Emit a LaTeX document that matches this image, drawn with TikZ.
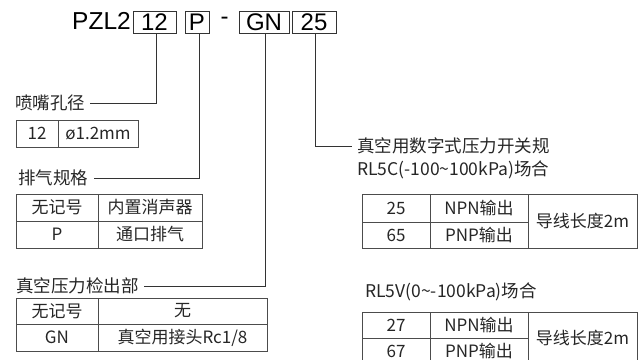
\documentclass[tikz,border=0pt]{standalone}
\usepackage{fontspec}
\setmainfont{Noto Sans CJK SC}
\newfontfamily\hdfont{Liberation Sans}
\usetikzlibrary{calc}

\tikzset{
	codebox/.style={draw=black!80, line width=0.8pt, minimum height=22pt, inner sep=0pt, font=\hdfont\fontsize{24}{24}\selectfont},
	lbl/.style={anchor=west, inner sep=0pt, font=\fontsize{17.5}{20}\selectfont, text=black!85},
	cell/.style={inner sep=0pt, font=\fontsize{17}{20}\selectfont, text=black!85},
	lead/.style={draw=black!80, line width=0.8pt},
	grid/.style={draw=black!70, line width=0.9pt}
}

\begin{document}
\begin{tikzpicture}[x=1pt, y=-1pt]
			%%%%% START %%%%%
			\useasboundingbox (0,0) rectangle (639,359);
			\clip (0,0) rectangle (639,359);
			
			% model code
			\node[anchor=east, inner sep=0pt, font=\hdfont\fontsize{24.5}{24}\selectfont] (pzl) at (131,21) {PZL2};
			\node[codebox, minimum width=43pt] (b12) at (154.5,22) {12};
			\node[codebox, minimum width=24pt] (bp) at (197,22) {P};
			\node[inner sep=0pt, font=\hdfont\fontsize{24}{24}\selectfont] (dash) at (224.5,21) {-};
			\node[codebox, minimum width=50pt] (bgn) at (264,22) {GN};
			\node[codebox, minimum width=44pt] (b25) at (314,22) {25};
			
			% labels
			\node[lbl] (nozzle) at (15,103) {喷嘴孔径};
			\node[lbl] (exhaust) at (18,178) {排气规格};
			\node[lbl] (sensor) at (16,286) {真空压力检出部};
			\node[lbl] (switch) at (357,146) {真空用数字式压力开关规};
			\node[lbl] (rangec) at (357,170) {RL5C(-100\textasciitilde100kPa)场合};
			\node[lbl] (rangev) at (365,292) {RL5V(0\textasciitilde-100kPa)场合};
			
			% leaders
			\draw[lead] ([xshift=2pt]b12.south) |- ([xshift=5pt]nozzle.east);
			\draw[lead] ([xshift=2pt]bp.south) |- ([xshift=6pt]exhaust.east);
			\draw[lead] ([xshift=1pt]bgn.south) |- ([xshift=5pt]sensor.east);
			\draw[lead] ([xshift=1pt]b25.south) |- ([xshift=-5pt]switch.west);
			
			% nozzle table
			\draw[grid] (16,120) rectangle (138,147);
			\draw[grid] (58,120) -- (58,147);
			\node[cell] (n12) at (37,133.5) {12};
			\node[cell] (ndia) at (98,133.5) {ø1.2mm};
			
			% exhaust table
			\draw[grid] (16,194) rectangle (202,248);
			\draw[grid] (16,221) -- (202,221);
			\draw[grid] (98,194) -- (98,248);
			\node[cell] (enone) at (57,207.5) {无记号};
			\node[cell] (esil) at (150,207.5) {内置消声器};
			\node[cell] (ep) at (57,234.5) {P};
			\node[cell] (eport) at (150,234.5) {通口排气};
			
			% sensor table
			\draw[grid] (16,298) rectangle (267,351);
			\draw[grid] (16,324) -- (267,324);
			\draw[grid] (98,298) -- (98,351);
			\node[cell] (snone) at (57,311) {无记号};
			\node[cell] (sno) at (182.5,311) {无};
			\node[cell] (sgn) at (57,337.5) {GN};
			\node[cell] (sjoint) at (182.5,337.5) {真空用接头Rc1/8};
			
			% RL5C table
			\draw[grid] (362,194) rectangle (637,248);
			\draw[grid] (362,222) -- (528,222);
			\draw[grid] (430,194) -- (430,248);
			\draw[grid] (528,194) -- (528,248);
			\node[cell] (c25) at (396,208) {25};
			\node[cell] (cnpn) at (479,208) {NPN输出};
			\node[cell] (c65) at (396,235) {65};
			\node[cell] (cpnp) at (479,235) {PNP输出};
			\node[cell] (clen) at (582.5,221) {导线长度2m};
			
			% RL5V table
			\draw[grid] (362,312) rectangle (637,364);
			\draw[grid] (362,338) -- (528,338);
			\draw[grid] (430,312) -- (430,364);
			\draw[grid] (528,312) -- (528,364);
			\node[cell] (v27) at (396,325) {27};
			\node[cell] (vnpn) at (479,325) {NPN输出};
			\node[cell] (v67) at (396,351) {67};
			\node[cell] (vpnp) at (479,351) {PNP输出};
			\node[cell] (vlen) at (582.5,338) {导线长度2m};
			
			%%%%% END %%%%%
\end{tikzpicture}
\end{document}
